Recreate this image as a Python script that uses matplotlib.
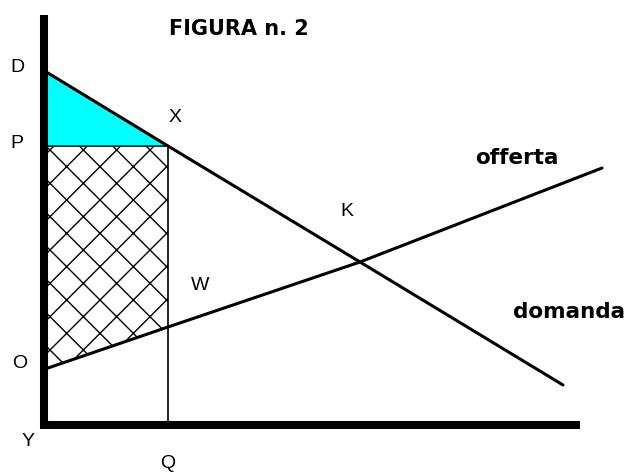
import matplotlib.pyplot as plt
import matplotlib as mpl

# Dati del grafico (unità arbitrarie: quantità / prezzo)
domanda_q = [0.0, 12.0, 31.2, 51.5]
domanda_p = [34.8, 27.5, 15.9, 3.6]

offerta_q = [0.0, 12.0, 31.2, 55.4]
offerta_p = [5.3, 9.4, 15.9, 25.3]

q_x = 12.0      # quantità Q
p_x = 27.5      # prezzo P
d_int = 34.8    # intercetta domanda D
o_int = 5.3     # intercetta offerta O
w_p = 9.4       # prezzo di offerta in Q (W)

asse_x_max = 53.2
asse_y_max = 40.6

# Etichette dei punti: (testo, x, y)
etichette = [
    ("D", -3.1, 35.4),
    ("P", -3.1, 27.8),
    ("O", -2.8, 5.8),
    ("Y", -2.0, -2.1),
    ("Q", 12.0, -4.2),
    ("X", 12.7, 30.3),
    ("K", 29.9, 20.9),
    ("W", 15.2, 13.5),
]

mpl.rcParams["hatch.linewidth"] = 1.0

fig = plt.figure(figsize=(6.3, 4.74), dpi=100)
ax = fig.add_axes([0, 0, 1, 1])
ax.set_xlim(-4.8, 58.2)
ax.set_ylim(-5.3, 42.1)
ax.axis("off")

# Surplus del consumatore (triangolo ciano)
ax.fill([0, q_x, 0], [d_int, p_x, p_x], color="#00ffff", lw=0, zorder=1)

# Area tratteggiata
ax.fill([0, q_x, q_x, 0], [p_x, p_x, w_p, o_int], facecolor="white",
        edgecolor="black", hatch="x", lw=0, zorder=1)

# Linee P e Q
ax.plot([0, q_x], [p_x, p_x], color="black", lw=1.2, zorder=2)
ax.plot([q_x, q_x], [0, p_x], color="black", lw=1.2, zorder=2)

# Curve di domanda e offerta
ax.plot(domanda_q, domanda_p, color="black", lw=2.2, zorder=3,
        solid_capstyle="round")
ax.plot(offerta_q, offerta_p, color="black", lw=2.2, zorder=3,
        solid_capstyle="round")

# Assi spessi
ax.plot([-0.4, -0.4], [-0.8, asse_y_max], color="black", lw=5.8,
        solid_capstyle="butt", zorder=4)
ax.plot([-0.8, asse_x_max], [-0.4, -0.4], color="black", lw=5.8,
        solid_capstyle="butt", zorder=4)

for testo, x, y in etichette:
    ax.text(x, y, testo, fontsize=14, family="Liberation Sans",
            ha="center", va="center")

ax.text(19.1, 39.2, "FIGURA n. 2", fontsize=15, fontweight="bold",
        ha="center", va="center")
ax.text(46.9, 26.3, "offerta", fontsize=15.5, fontweight="bold",
        ha="center", va="center")
ax.text(52.1, 10.9, "domanda", fontsize=15.5, fontweight="bold",
        ha="center", va="center")

fig.savefig("out.png", dpi=100)
